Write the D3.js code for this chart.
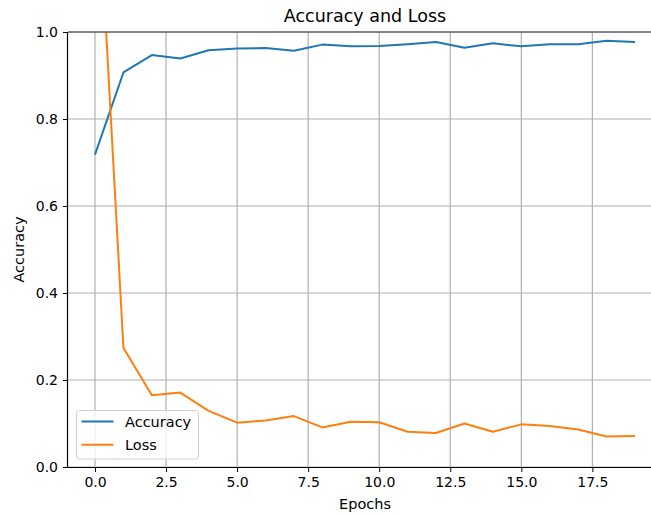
<!DOCTYPE html>
<html>
<head>
<meta charset="utf-8">
<script src="https://d3js.org/d3.v7.min.js"></script>
<style>
body { margin: 0; background: #fff; }
text { font-family: "DejaVu Sans", sans-serif; }
</style>
</head>
<body>
<div id="chart"></div>
<script>
// values
var epochs = d3.range(0, 20);
var accuracy = [0.718, 0.907, 0.947, 0.939, 0.958, 0.962, 0.963, 0.957, 0.971, 0.967,
                0.968, 0.972, 0.977, 0.964, 0.974, 0.967, 0.972, 0.972, 0.980, 0.977];
var loss = [1.47, 0.274, 0.165, 0.171, 0.129, 0.102, 0.107, 0.117, 0.091, 0.104,
            0.103, 0.081, 0.078, 0.100, 0.081, 0.098, 0.094, 0.086, 0.070, 0.071];
var xTicks = [0, 2.5, 5, 7.5, 10, 12.5, 15, 17.5];
var yTicks = [0, 0.2, 0.4, 0.6, 0.8, 1.0];
var seriesNames = ["Accuracy", "Loss"];
var colors = ["#1f77b4", "#ff7f0e"];

var W = 651, H = 515;
var margin = {top: 32, left: 68, bottom: 48, right: -11};
var width = W - margin.left - margin.right,
    height = H - margin.top - margin.bottom;

var svg = d3.select("#chart").append("svg")
  .attr("width", W).attr("height", H);

var x = d3.scaleLinear().domain([-0.95, 19.95]).range([0, width]);
var y = d3.scaleLinear().domain([0, 1]).range([height, 0]);

var g = svg.append("g").attr("transform", "translate(" + margin.left + "," + margin.top + ")");

// grid
g.append("g").selectAll("line").data(xTicks).join("line")
  .attr("x1", d => x(d)).attr("x2", d => x(d))
  .attr("y1", 0).attr("y2", height)
  .attr("stroke", "#b0b0b0").attr("stroke-width", 1.2);
g.append("g").selectAll("line").data(yTicks).join("line")
  .attr("x1", 0).attr("x2", width)
  .attr("y1", d => y(d)).attr("y2", d => y(d))
  .attr("stroke", "#b0b0b0").attr("stroke-width", 1.2);

g.append("clipPath").attr("id", "clip")
  .append("rect").attr("width", width).attr("height", height);

var line = d3.line().x((d, i) => x(epochs[i])).y(d => y(d));
[accuracy, loss].forEach(function(s, k) {
  g.append("path").datum(s)
    .attr("clip-path", "url(#clip)")
    .attr("fill", "none")
    .attr("stroke", colors[k])
    .attr("stroke-width", 2)
    .attr("stroke-linejoin", "round")
    .attr("d", line);
});

// axes
var xAxis = g.append("g").attr("transform", "translate(0," + height + ")")
  .call(d3.axisBottom(x).tickValues(xTicks).tickFormat(d3.format(".1f")).tickSize(5).tickPadding(5));
var yAxis = g.append("g")
  .call(d3.axisLeft(y).tickValues(yTicks).tickFormat(d3.format(".1f")).tickSize(5).tickPadding(5));
[xAxis, yAxis].forEach(function(a) {
  a.selectAll("text").attr("font-size", 14).attr("fill", "#000").style("font-family", "DejaVu Sans");
  a.select(".domain").attr("stroke", "#000").attr("stroke-width", 1.2);
  a.selectAll(".tick line").attr("stroke", "#000");
});
xAxis.select(".domain").attr("d", "M0,0.5H" + width);
yAxis.select(".domain").attr("d", "M-0.5," + height + "V0");
g.append("line").attr("x1", 0).attr("x2", width).attr("y1", 0).attr("y2", 0)
  .attr("stroke", "#333").attr("stroke-width", 1.2);

// labels
svg.append("text").attr("x", margin.left + width / 2).attr("y", 22)
  .attr("text-anchor", "middle").attr("font-size", 17.5).text("Accuracy and Loss");
svg.append("text").attr("x", margin.left + width / 2).attr("y", 509)
  .attr("text-anchor", "middle").attr("font-size", 14.5).text("Epochs");
svg.append("text")
  .attr("transform", "translate(24," + (margin.top + height / 2) + ") rotate(-90)")
  .attr("text-anchor", "middle").attr("font-size", 14.5).text("Accuracy");

// legend
var lg = g.append("g").attr("transform", "translate(8.5," + (height - 56.5) + ")");
lg.append("rect").attr("width", 122).attr("height", 48.5).attr("rx", 3)
  .attr("fill", "#fff").attr("fill-opacity", 0.8).attr("stroke", "#d0d0d0");
seriesNames.forEach(function(n, i) {
  var yy = 11 + i * 23.3;
  lg.append("line").attr("x1", 5).attr("x2", 37).attr("y1", yy).attr("y2", yy)
    .attr("stroke", colors[i]).attr("stroke-width", 2);
  lg.append("text").attr("x", 48.5).attr("y", yy + 5.5).attr("font-size", 14.5).text(n);
});
</script>
</body>
</html>
